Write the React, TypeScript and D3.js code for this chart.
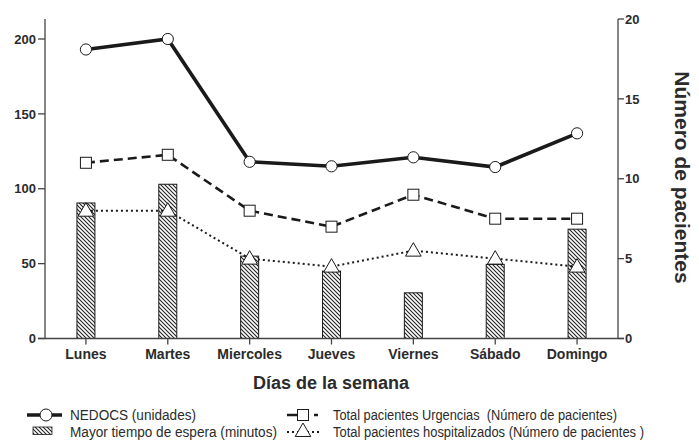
import React from "react";
import * as d3 from "d3";

const days = ["Lunes", "Martes", "Miercoles", "Jueves", "Viernes", "Sábado", "Domingo"];
const nedocs = [193, 200, 118, 115, 121, 114.5, 137];
const esperaMin = [90.5, 103, 55, 45, 30.5, 49.5, 73];
const urgencias = [11, 11.5, 8, 7, 9, 7.5, 7.5];
const hospitalizados = [8, 8, 5, 4.5, 5.5, 5, 4.5];
const leftTicks = [0, 50, 100, 150, 200];
const rightTicks = [0, 5, 10, 15, 20];

const W = 699, H = 440;
const X0 = 45, X1 = 618, Y0 = 338.5, YT = 19;
const FONT = "'Liberation Sans', Arial, Helvetica, sans-serif";
const NARROW = "'Liberation Sans Narrow', 'Arial Narrow', 'Liberation Sans', sans-serif";

export default function App() {
  const x = d3.scaleBand<string>().domain(days).range([X0, X1]).padding(0);
  const cx = (d: string) => (x(d) as number) + x.bandwidth() / 2;
  const yL = d3.scaleLinear().domain([0, 200 * (Y0 - YT) / (Y0 - 39)]).range([Y0, YT]);
  const yR = d3.scaleLinear().domain([0, 20]).range([Y0, YT]);

  const lineL = d3.line<number>().x((_, i) => cx(days[i])).y((v) => yL(v));
  const lineR = d3.line<number>().x((_, i) => cx(days[i])).y((v) => yR(v));
  const tri = d3.symbol().type(d3.symbolTriangle).size(105)();
  const barW = 18;
  const ink = "#1a1a1a";
  const axisC = "#444";
  const textC = "#2b2b2b";

  return (
    <svg width={W} height={H} style={{ display: "block", position: "absolute", left: 0, top: 0 }}>
      <defs>
        <pattern id="hatch" patternUnits="userSpaceOnUse" width="4" height="4">
          <rect width="4" height="4" fill="#fff" />
          <path d="M-1,-1 L5,5 M-1,3 L1,5 M3,-1 L5,1" stroke="#222" strokeWidth="1.1" />
        </pattern>
      </defs>
      <rect width={W} height={H} fill="#fff" />

      {/* bars */}
      {esperaMin.map((v, i) => (
        <rect key={"b" + i} x={cx(days[i]) - barW / 2} y={yL(v)} width={barW} height={Y0 - yL(v)}
          fill="url(#hatch)" stroke={ink} strokeWidth={1} />
      ))}

      {/* axes */}
      <g stroke={axisC} strokeWidth={1.3} fill="none">
        <line x1={X0} y1={YT} x2={X0} y2={Y0} />
        <line x1={X1} y1={YT} x2={X1} y2={Y0} />
        <line x1={X0 - 7} y1={Y0} x2={X1 + 6} y2={Y0} />
        {leftTicks.map((t) => <line key={"lt" + t} x1={X0 - 7} x2={X0} y1={yL(t)} y2={yL(t)} />)}
        {rightTicks.map((t) => <line key={"rt" + t} x1={X1} x2={X1 + 6} y1={yR(t)} y2={yR(t)} />)}
        {days.map((d) => <line key={"xt" + d} x1={cx(d)} x2={cx(d)} y1={Y0} y2={Y0 + 6} />)}
      </g>
      <g fontFamily={FONT} fontWeight="bold" fontSize={13} fill={textC}>
        {leftTicks.map((t) => (
          <text key={"ll" + t} x={X0 - 9} y={yL(t)} dy="0.36em" textAnchor="end">{t}</text>
        ))}
        {rightTicks.map((t) => (
          <text key={"rl" + t} x={X1 + 7} y={yR(t)} dy="0.36em" textAnchor="start">{t}</text>
        ))}
        {days.map((d) => (
          <text key={"xl" + d} x={cx(d)} y={359} textAnchor="middle" fontSize={14}>{d}</text>
        ))}
        <text x={331} y={389} textAnchor="middle" fontSize={18}>Días de la semana</text>
        <text transform={`translate(675,177.5) rotate(90)`} textAnchor="middle" fontSize={21}>Número de pacientes</text>
      </g>

      {/* lines */}
      <path d={lineR(hospitalizados) || ""} fill="none" stroke={ink} strokeWidth={2} strokeDasharray="2,3" />
      <path d={lineR(urgencias) || ""} fill="none" stroke={ink} strokeWidth={2.6} strokeDasharray="9,5" />
      <path d={lineL(nedocs) || ""} fill="none" stroke={ink} strokeWidth={3.6} />

      {hospitalizados.map((v, i) => (
        <path key={"t" + i} d={tri || ""} transform={`translate(${cx(days[i])},${yR(v) + 1})`} fill="#fff" stroke={ink} strokeWidth={1} />
      ))}
      {urgencias.map((v, i) => (
        <rect key={"s" + i} x={cx(days[i]) - 5.5} y={yR(v) - 5.5} width={11} height={11} fill="#fff" stroke={ink} strokeWidth={1} />
      ))}
      {nedocs.map((v, i) => (
        <circle key={"c" + i} cx={cx(days[i])} cy={yL(v)} r={5.6} fill="#fff" stroke={ink} strokeWidth={1} />
      ))}

      {/* legend */}
      <g>
        <line x1={27} x2={62} y1={415} y2={415} stroke={ink} strokeWidth={3.6} />
        <circle cx={46} cy={415} r={6} fill="#fff" stroke={ink} strokeWidth={1} />
        <rect x={33} y={427} width={19} height={7.5} fill="url(#hatch)" stroke={ink} strokeWidth={0.8} />

        <line x1={287} x2={318} y1={415} y2={415} stroke={ink} strokeWidth={2.6} strokeDasharray="11,4,2,10" />
        <rect x={297.5} y={409.5} width={11} height={11} fill="#fff" stroke={ink} strokeWidth={1} />
        <line x1={287} x2={319} y1={432} y2={432} stroke={ink} strokeWidth={2} strokeDasharray="2,3" />
        <path d={tri || ""} transform="translate(303,432)" fill="#fff" stroke={ink} strokeWidth={1} />
      </g>
      <g fontFamily={NARROW} fontSize={14} fill={textC}>
        <text x={70} y={420} textLength={126} lengthAdjust="spacingAndGlyphs">NEDOCS (unidades)</text>
        <text x={70} y={436.5} textLength={207} lengthAdjust="spacingAndGlyphs">Mayor tiempo de espera (minutos)</text>
        <text x={333} y={420} textLength={284} lengthAdjust="spacingAndGlyphs" style={{ whiteSpace: "pre" }}>{"Total pacientes Urgencias  (Número de pacientes)"}</text>
        <text x={333} y={436.5} textLength={311} lengthAdjust="spacingAndGlyphs">Total pacientes hospitalizados (Número de pacientes )</text>
      </g>
    </svg>
  );
}
